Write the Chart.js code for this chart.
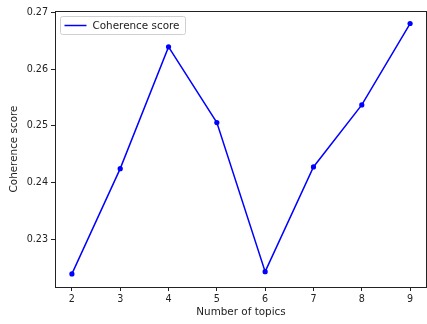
<!DOCTYPE html>
<html>
<head>
<meta charset="utf-8">
<script src="https://cdn.jsdelivr.net/npm/chart.js@4.4.1/dist/chart.umd.min.js"></script>
<style>
  html, body { margin: 0; padding: 0; background: #fff; }
  canvas { display: block; }
</style>
</head>
<body>
<canvas id="chart" width="427" height="324"></canvas>
<script>
// ── DATA ─────────────────────────────────────────────────
const topics = [2, 3, 4, 5, 6, 7, 8, 9];
const scores = [0.2240, 0.2425, 0.2639, 0.2506, 0.2244, 0.2428, 0.2537, 0.2680];
const xTicks = [2, 3, 4, 5, 6, 7, 8, 9];
const yTicks = [0.23, 0.24, 0.25, 0.26, 0.27];
const seriesLabel = 'Coherence score';

const TICK_FONT  = { family: 'DejaVu Sans', size: 9.6 };
const LABEL_FONT = { family: 'DejaVu Sans', size: 10.4 };
const INK = '#222222';

// ── PLUGIN: top/right spines + legend inside the axes ───
const matplotlibFrame = {
  id: 'matplotlibFrame',
  afterDraw(chart) {
    const { ctx, chartArea: a } = chart;
    ctx.save();
    ctx.strokeStyle = INK;
    ctx.lineWidth = 1;
    ctx.beginPath();
    ctx.moveTo(a.left, a.top + 0.5);
    ctx.lineTo(a.right, a.top + 0.5);
    ctx.moveTo(a.right - 0.5, a.top);
    ctx.lineTo(a.right - 0.5, a.bottom);
    ctx.stroke();

    // legend box
    const bx = a.left + 5.5, by = a.top + 5.5, bw = 125, bh = 18, r = 2;
    ctx.fillStyle = 'rgba(255,255,255,0.8)';
    ctx.strokeStyle = '#d0d0d0';
    ctx.beginPath();
    ctx.roundRect(bx, by, bw, bh, r);
    ctx.fill();
    ctx.stroke();

    ctx.strokeStyle = '#0000ff';
    ctx.lineWidth = 1.5;
    ctx.beginPath();
    ctx.moveTo(bx + 4, by + 9);
    ctx.lineTo(bx + 26, by + 9);
    ctx.stroke();

    ctx.fillStyle = INK;
    ctx.font = `${LABEL_FONT.size}px ${LABEL_FONT.family}`;
    ctx.textBaseline = 'middle';
    ctx.fillText(chart.data.datasets[0].label, bx + 32, by + 9.5);
    ctx.restore();
  }
};

// ── CHART ────────────────────────────────────────────────
new Chart(document.getElementById('chart').getContext('2d'), {
  type: 'line',
  data: {
    datasets: [{
      label: seriesLabel,
      data: topics.map((t, i) => ({ x: t, y: scores[i] })),
      borderColor: '#0000ff',
      borderWidth: 1.5,
      pointRadius: 2.6,
      pointBackgroundColor: '#0000ff',
      pointBorderWidth: 0,
      tension: 0
    }]
  },
  options: {
    responsive: false,
    animation: false,
    layout: { autoPadding: false, padding: { top: 11, right: 0, left: 0, bottom: 0 } },
    plugins: { legend: { display: false }, tooltip: { enabled: false } },
    scales: {
      x: {
        type: 'linear',
        min: 1.65,
        max: 9.35,
        afterBuildTicks: s => { s.ticks = xTicks.map(v => ({ value: v })); },
        afterFit: s => { s.height = 37; s.paddingLeft = 0; s.paddingRight = 0; },
        grid: { drawOnChartArea: false, tickLength: 4, tickColor: INK },
        border: { color: INK, width: 1 },
        ticks: { color: INK, font: TICK_FONT, padding: 3, maxRotation: 0 },
        title: { display: true, text: 'Number of topics', color: INK, font: LABEL_FONT, padding: { top: 0, bottom: 5 } }
      },
      y: {
        min: 0.2217,
        max: 0.2702,
        afterBuildTicks: s => { s.ticks = yTicks.map(v => ({ value: v })); },
        afterFit: s => { s.width = 55; s.paddingTop = 0; s.paddingBottom = 0; },
        grid: { drawOnChartArea: false, tickLength: 4, tickColor: INK },
        border: { color: INK, width: 1 },
        ticks: { color: INK, font: TICK_FONT, padding: 3, callback: v => v.toFixed(2) },
        title: { display: true, text: 'Coherence score', color: INK, font: LABEL_FONT, padding: { top: 8, bottom: 0 } }
      }
    }
  },
  plugins: [matplotlibFrame]
});
</script>
</body>
</html>
